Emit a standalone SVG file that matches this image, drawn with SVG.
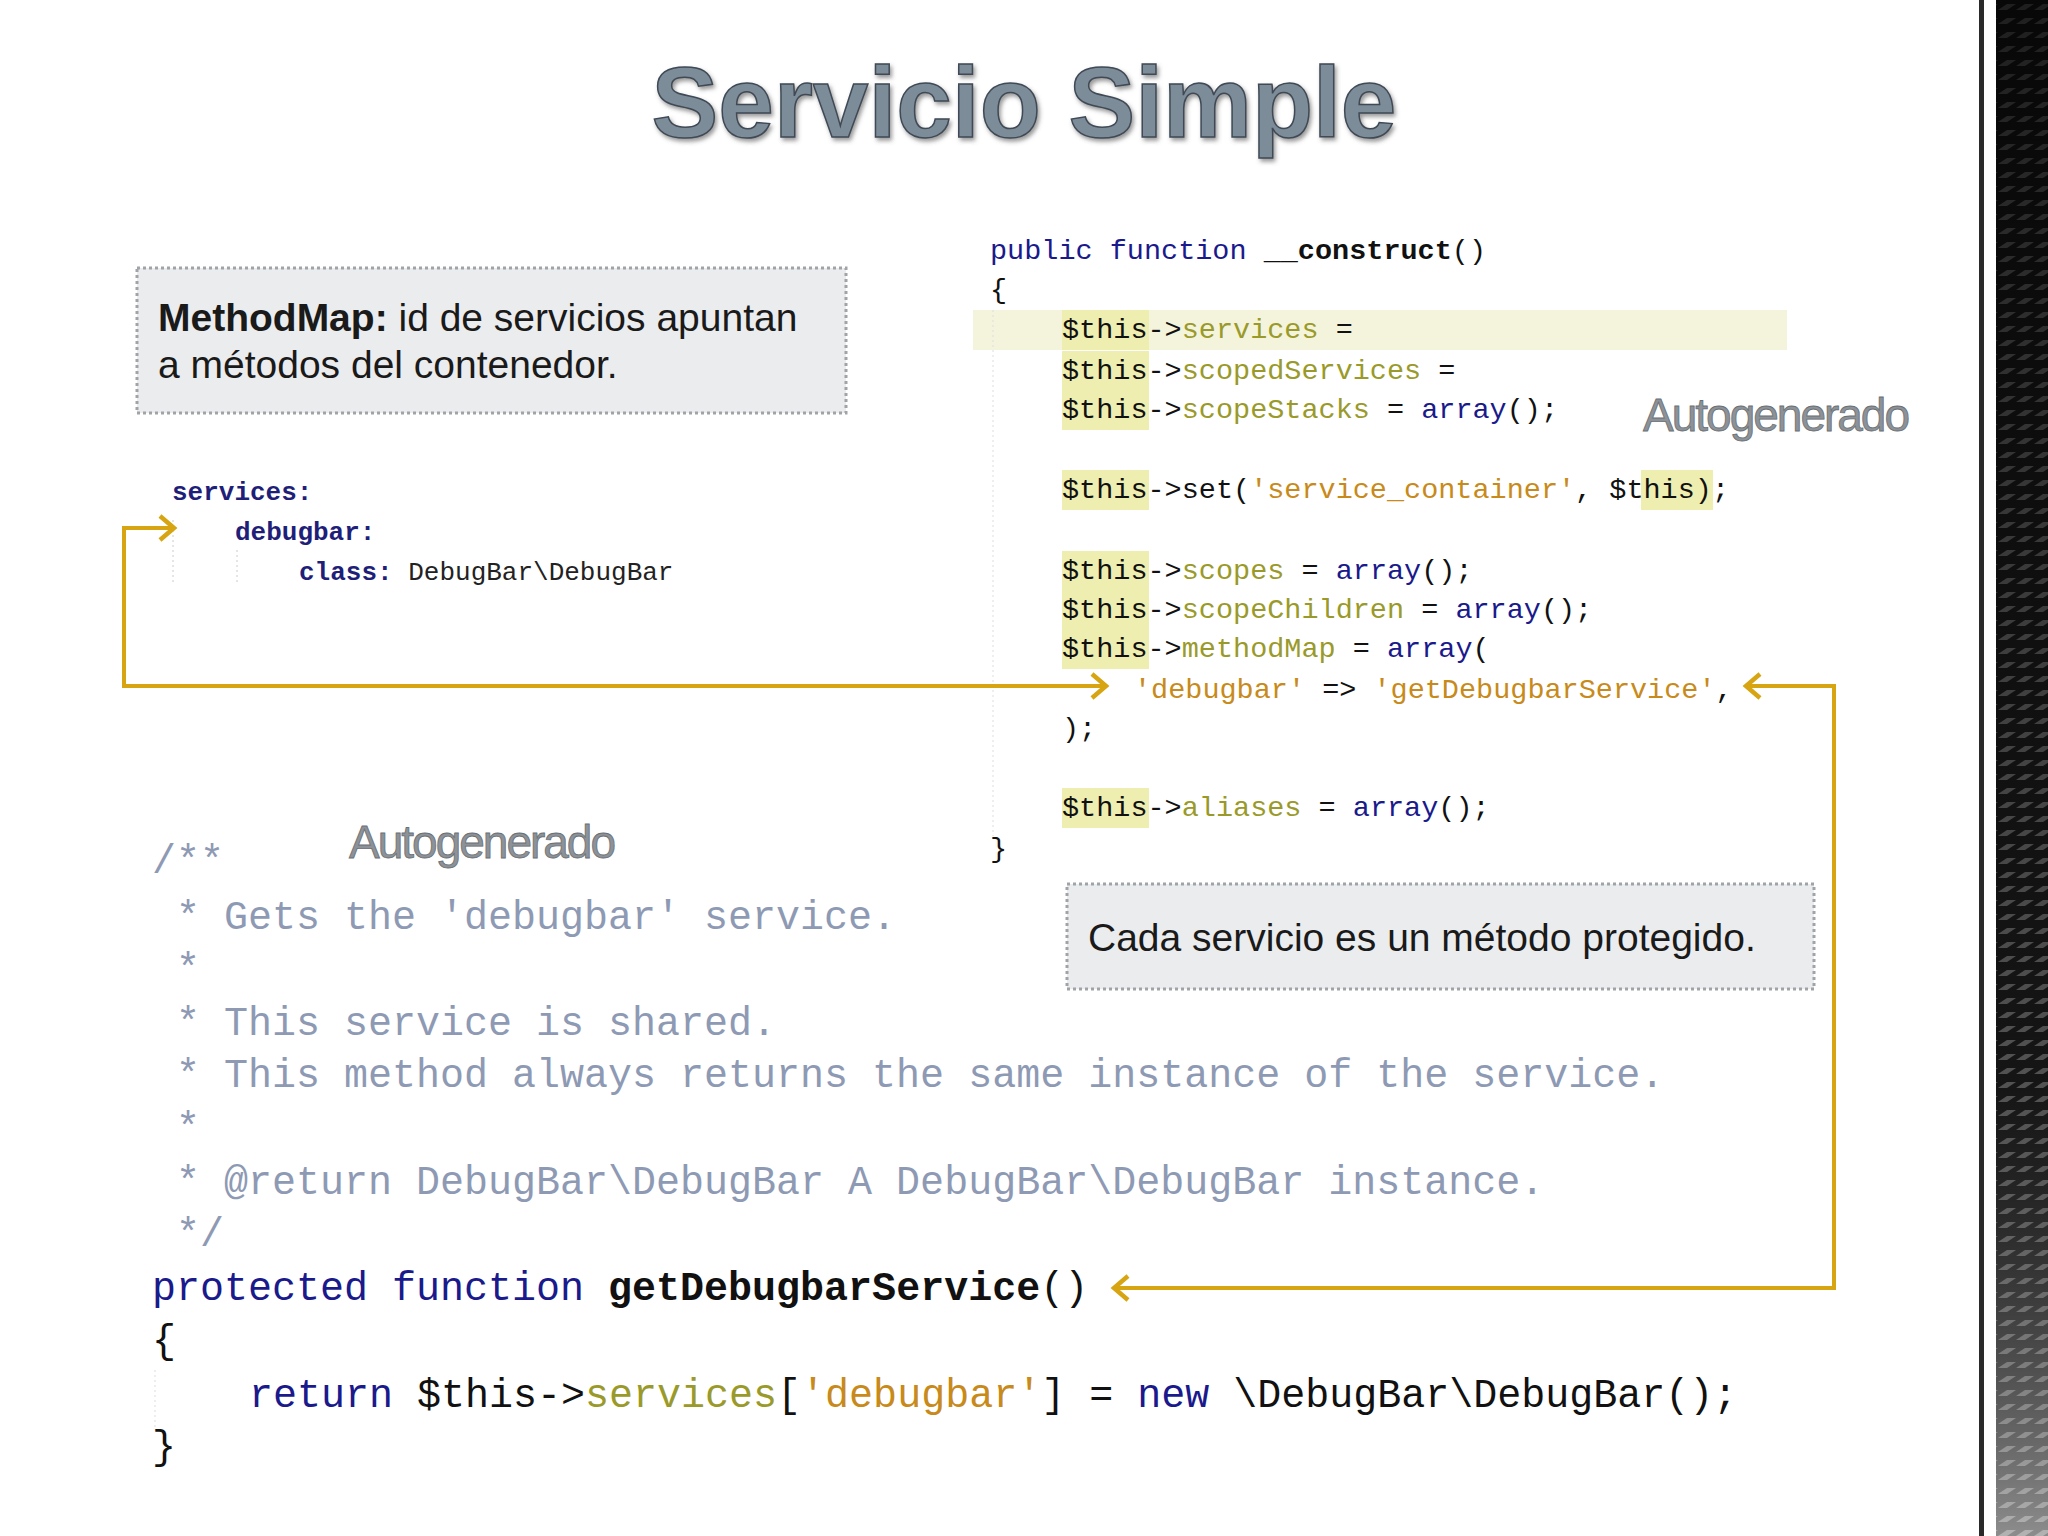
<svg xmlns="http://www.w3.org/2000/svg" width="2048" height="1536" viewBox="0 0 2048 1536">
<style>
text{white-space:pre}
.code{font-family:"Liberation Mono",monospace;font-size:28.5px;fill:#111}
.bc{font-family:"Liberation Mono",monospace;font-size:40px;fill:#111}
.cm{fill:#8e9ab4}
.kw{fill:#1a1a8c}
.pr{fill:#9a9a2a}
.st{fill:#c88a1a}
.note{font-family:"Liberation Sans",Arial,sans-serif;font-size:39px;fill:#1a1a1a}
.auto{font-family:"Liberation Sans",Arial,sans-serif;font-size:46px;fill:#8c9297;stroke:#6a6f74;stroke-width:0.8;letter-spacing:-2px}
.box{fill:#ebecee;stroke:#a0a4a8;stroke-width:3;stroke-dasharray:3 3}
.hl{fill:#eeeeb0}
.conn{fill:none;stroke:#d8a512;stroke-width:4}
</style>
<defs>
<marker id="chev" markerWidth="20" markerHeight="28" refX="16" refY="14" orient="auto-start-reverse" markerUnits="userSpaceOnUse">
<path d="M2,2 L16,14 L2,26" fill="none" stroke="#d8a512" stroke-width="4.5"/>
</marker>
<pattern id="mesh" width="18" height="14" patternUnits="userSpaceOnUse">
<rect width="18" height="14" fill="#1a1a1a"/>
<path d="M0,10 L9,4 L18,4 L9,10Z" fill="#666"/>
</pattern>
<linearGradient id="fade" x1="0" y1="0" x2="0" y2="1">
<stop offset="0" stop-color="#000" stop-opacity="0.7"/>
<stop offset="0.7" stop-color="#000" stop-opacity="0.2"/>
<stop offset="1" stop-color="#fff" stop-opacity="0.5"/>
</linearGradient>
<filter id="sh"><feDropShadow dx="2" dy="3" stdDeviation="2" flood-color="#555" flood-opacity="0.6"/></filter>
</defs>
<rect width="2048" height="1536" fill="#fff"/>
<g id="strip">
<rect x="1979" y="0" width="5" height="1536" fill="#2a2a2a"/>
<rect x="1996" y="0" width="52" height="1536" fill="url(#mesh)"/>
<rect x="1996" y="0" width="52" height="1536" fill="url(#fade)"/>
</g>
<text id="title" x="1024" y="137" text-anchor="middle" font-family="Liberation Sans,Arial,sans-serif" font-weight="bold" font-size="100" fill="#7d8c99" stroke="#3f4a55" stroke-width="1.5" filter="url(#sh)">Servicio Simple</text>

<g id="methodmap-note">
<rect class="box" x="137" y="268" width="709" height="145"/>
<text class="note" x="158" y="331"><tspan font-weight="bold">MethodMap:</tspan> id de servicios apuntan</text>
<text class="note" x="158" y="378">a métodos del contenedor.</text>
</g>

<g id="yaml" font-family="Liberation Mono,monospace" font-size="26" font-weight="bold" fill="#1f1f7a">
<line x1="173" y1="520" x2="173" y2="585" stroke="#ccc" stroke-dasharray="2 3"/>
<line x1="237" y1="550" x2="237" y2="585" stroke="#ccc" stroke-dasharray="2 3"/>
<text x="172" y="500">services:</text>
<text x="235" y="540">debugbar:</text>
<text x="299" y="580">class: <tspan fill="#222" font-weight="normal">DebugBar\DebugBar</tspan></text>
</g>

<g id="construct">
<rect x="973" y="310" width="814" height="40" fill="#f4f4dc"/>
<rect class="hl" x="1062" y="310" width="87" height="40"/>
<rect class="hl" x="1062" y="351" width="87" height="40"/>
<rect class="hl" x="1062" y="390" width="87" height="40"/>
<rect class="hl" x="1062" y="470" width="87" height="40"/>
<rect class="hl" x="1641" y="470" width="72" height="40"/>
<rect class="hl" x="1062" y="551" width="87" height="40"/>
<rect class="hl" x="1062" y="590" width="87" height="40"/>
<rect class="hl" x="1062" y="629" width="87" height="40"/>
<rect class="hl" x="1062" y="788" width="87" height="40"/>
<line x1="993" y1="310" x2="993" y2="836" stroke="#ddd" stroke-dasharray="2 3"/>
<text class="code" x="990" y="259"><tspan class="kw">public function </tspan><tspan font-weight="bold">__construct</tspan>()</text>
<text class="code" x="990" y="298">{</text>
<text class="code" x="1062" y="338">$this-&gt;<tspan class="pr">services</tspan> =</text>
<text class="code" x="1062" y="379">$this-&gt;<tspan class="pr">scopedServices</tspan> =</text>
<text class="code" x="1062" y="418">$this-&gt;<tspan class="pr">scopeStacks</tspan> = <tspan class="kw">array</tspan>();</text>
<text class="code" x="1062" y="498">$this-&gt;set(<tspan class="st">'service_container'</tspan>, $this);</text>
<text class="code" x="1062" y="579">$this-&gt;<tspan class="pr">scopes</tspan> = <tspan class="kw">array</tspan>();</text>
<text class="code" x="1062" y="618">$this-&gt;<tspan class="pr">scopeChildren</tspan> = <tspan class="kw">array</tspan>();</text>
<text class="code" x="1062" y="657">$this-&gt;<tspan class="pr">methodMap</tspan> = <tspan class="kw">array</tspan>(</text>
<text class="code" x="1134" y="698"><tspan class="st">'debugbar'</tspan> =&gt; <tspan class="st">'getDebugbarService'</tspan>,</text>
<text class="code" x="1062" y="737">);</text>
<text class="code" x="1062" y="816">$this-&gt;<tspan class="pr">aliases</tspan> = <tspan class="kw">array</tspan>();</text>
<text class="code" x="990" y="857">}</text>
</g>

<text id="auto-right" class="auto" x="1643" y="431">Autogenerado</text>
<text id="auto-left" class="auto" x="349" y="858">Autogenerado</text>

<g id="cada-note">
<rect class="box" x="1067" y="884" width="747" height="105"/>
<text class="note" x="1088" y="951" font-size="38">Cada servicio es un método protegido.</text>
</g>

<g id="getter">
<line x1="155" y1="1370" x2="155" y2="1430" stroke="#ddd" stroke-dasharray="2 3"/>
<text class="bc cm" x="152" y="873">/**</text>
<text class="bc cm" x="176" y="929">* Gets the 'debugbar' service.</text>
<text class="bc cm" x="176" y="981">*</text>
<text class="bc cm" x="176" y="1035">* This service is shared.</text>
<text class="bc cm" x="176" y="1087">* This method always returns the same instance of the service.</text>
<text class="bc cm" x="176" y="1140">*</text>
<text class="bc cm" x="176" y="1194">* @return DebugBar\DebugBar A DebugBar\DebugBar instance.</text>
<text class="bc cm" x="176" y="1246">*/</text>
<text class="bc" x="152" y="1300"><tspan class="kw">protected function </tspan><tspan font-weight="bold">getDebugbarService</tspan>()</text>
<text class="bc" x="152" y="1353">{</text>
<text class="bc" x="249" y="1407"><tspan class="kw">return</tspan> $this-&gt;<tspan class="pr">services</tspan>[<tspan class="st">'debugbar'</tspan>] = <tspan class="kw">new</tspan> \DebugBar\DebugBar();</text>
<text class="bc" x="152" y="1459">}</text>
</g>

<g id="connectors">
<path class="conn" d="M174,528 L124,528 L124,686 L1106,686" marker-start="url(#chev)" marker-end="url(#chev)"/>
<path class="conn" d="M1746,686 L1834,686 L1834,1288 L1114,1288" marker-start="url(#chev)" marker-end="url(#chev)"/>
</g>
</svg>
